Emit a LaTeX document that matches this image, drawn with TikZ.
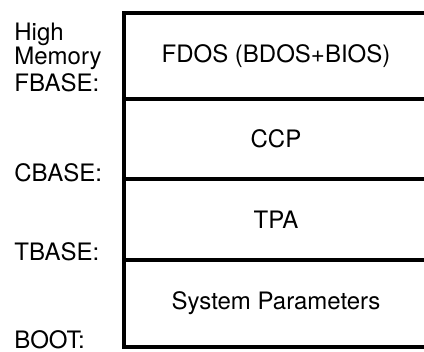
\documentclass[tikz,border=0pt]{standalone}
\usepackage{fontspec}
\setmainfont{TeX Gyre Heros}
\begin{document}
\begin{tikzpicture}[x=0.5pt,y=0.5pt,
    box/.style={line width=1.6pt,black},
    lbl/.style={anchor=base west,inner sep=0pt,font=\fontsize{12}{14}\selectfont},
    part/.style={inner sep=0pt,font=\fontsize{12}{14}\selectfont}]
    \useasboundingbox (0,0) rectangle (424,352);

    % memory map
    \draw[box] (430,339) -- (124,339) -- (124,5) -- (430,5);
    \foreach \y in {253,173,92} {
        \draw[box] (124,\y) -- (430,\y);}

    \node[part] (fdos) at (276,296) {FDOS (BDOS+BIOS)};
    \node[part] (ccp) at (276,213) {CCP};
    \node[part] (tpa) at (276,132.5) {TPA};
    \node[part] (sys) at (276,48.5) {System Parameters};

    % addresses
    \node[lbl] (high) at (14,311) {High};
    \node[lbl] (mem) at (14,287) {Memory};
    \node[lbl] (fbase) at (14,260) {FBASE:};
    \node[lbl] (cbase) at (14,170) {CBASE:};
    \node[lbl] (tbase) at (14,91) {TBASE:};
    \node[lbl] (boot) at (14,3) {BOOT:};
\end{tikzpicture}
\end{document}
